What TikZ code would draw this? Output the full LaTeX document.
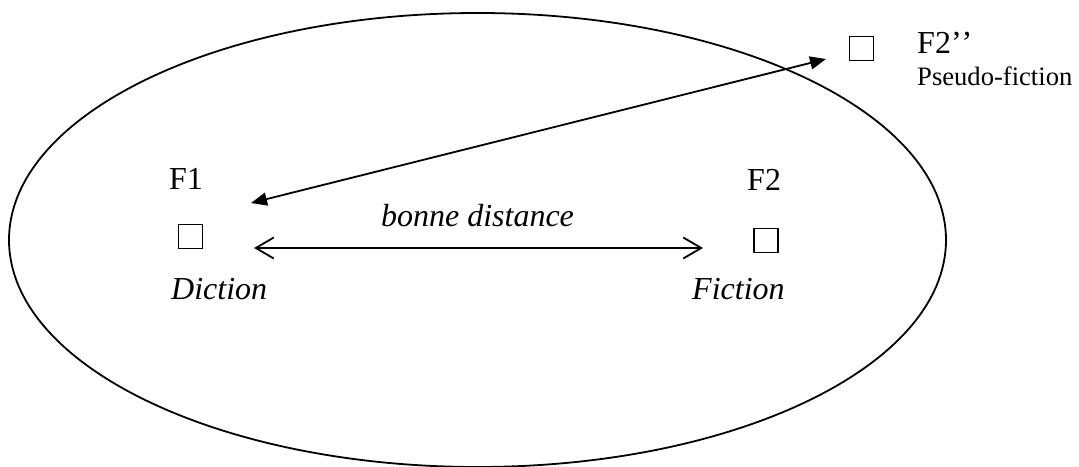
\documentclass[tikz,border=0pt]{standalone}
\usepackage{fontspec}
\setmainfont{Liberation Serif}
\usetikzlibrary{arrows.meta}
\begin{document}
\begin{tikzpicture}[x=1pt,y=-1pt,
  box/.style={draw, minimum size=24pt, inner sep=0pt, line width=1.7pt},
  lbl/.style={inner sep=0pt, anchor=base west, font=\fontsize{32}{38}\selectfont},
  ilbl/.style={lbl, font=\fontsize{32}{38}\selectfont\itshape},
  small/.style={inner sep=0pt, anchor=base west, font=\fontsize{26.6}{32}\selectfont},
  link/.style={line width=1.8pt},
  openhead/.tip={Straight Barb[length=18pt,width=21pt]},
  fullhead/.tip={Triangle[length=16pt,width=13pt]}]
\useasboundingbox (0,0) rectangle (1079,466);

% the enclosing domain
\draw[line width=1.8pt] (477.5,240) ellipse [x radius=468.5, y radius=227];

% the three positions
\node[box] (s1) at (190.5,236.5) {};
\node[box] (s2) at (766,240.5) {};
\node[box] (s3) at (861.5,48.5) {};

% labels
\node[lbl] (f1) at (169,189) {F1};
\node[lbl] (f2) at (747,190) {F2};
\node[lbl] (f3) at (917,53) {F2’\kern0pt’};
\node[small] (pf) at (917,85) {Pseudo-fiction};
\node[ilbl] (dic) at (171,299) {Diction};
\node[ilbl] (fic) at (692,299) {Fiction};
\node[ilbl, anchor=base] (bd) at (477.5,226) {bonne distance};

% connector ends
\coordinate (dL) at (254,248);
\coordinate (dR) at (703,248);
\coordinate (pL) at (251,203);
\coordinate (pR) at (826,59);

\draw[link, openhead-openhead] (dL) -- (dR);
\draw[link, fullhead-fullhead] (pL) -- (pR);
\end{tikzpicture}
\end{document}
